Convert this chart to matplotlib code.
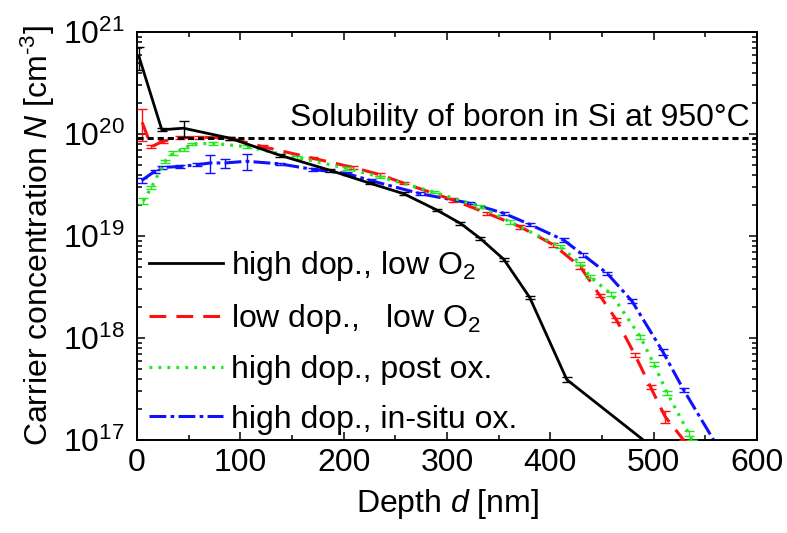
import matplotlib
matplotlib.use("Agg")
import matplotlib.pyplot as plt
import numpy as np
from matplotlib.ticker import LogLocator, LogFormatterMathtext, MultipleLocator, NullFormatter

# Hole concentration profiles vs. depth (nm, cm^-3) with relative uncertainties
depth_hd_lo = [2, 24, 45, 90, 138, 187, 225, 258, 290, 313, 332, 355, 380, 416, 490]
conc_hd_lo = [5.7e20, 1.1e20, 1.14e20, 9.1e19, 6.2e19, 4.4e19, 3.3e19, 2.6e19,
              1.8e19, 1.33e19, 9.5e18, 5.9e18, 2.5e18, 3.9e17, 1.0e17]
err_hd_lo = [0.25, 0.03, 0.18, 0.03, 0.03, 0.03, 0.03, 0.03, 0.03, 0.03, 0.03, 0.03,
             0.03, 0.06, 0.0]

depth_ld_lo = [5, 14, 25, 42, 60, 90, 122, 170, 209, 235, 258, 306, 339, 371, 403,
               429, 448, 464, 482, 497, 511, 529]
conc_ld_lo = [1.3e20, 7.5e19, 8.5e19, 9.2e19, 9.3e19, 9.1e19, 7.5e19, 5.8e19, 4.7e19,
              4.0e19, 3.3e19, 2.25e19, 1.67e19, 1.23e19, 8.2e18, 5.0e18, 2.6e18,
              1.5e18, 6.8e17, 3.3e17, 1.7e17, 1.0e17]
err_ld_lo = [0.35, 0.03, 0.03, 0.03, 0.03, 0.03, 0.03, 0.03, 0.03, 0.03, 0.03, 0.04,
             0.04, 0.04, 0.04, 0.04, 0.04, 0.05, 0.05, 0.05, 0.13, 0.0]

depth_hd_post = [6, 14, 27, 35, 45, 53, 74, 106, 155, 203, 235, 287, 332, 361, 409,
                 429, 438, 459, 487, 500, 513, 534, 537]
conc_hd_post = [2.2e19, 3.0e19, 5.4e19, 6.5e19, 7.1e19, 8.0e19, 8.1e19, 7.5e19, 5.9e19,
                4.6e19, 3.8e19, 2.7e19, 1.94e19, 1.38e19, 7.9e18, 5.4e18, 4.0e18,
                2.7e18, 1.03e18, 5.6e17, 2.9e17, 1.16e17, 1.0e17]
err_hd_post = [0.06, 0.03, 0.03, 0.04, 0.03, 0.03, 0.03, 0.03, 0.03, 0.03, 0.03, 0.03,
               0.04, 0.04, 0.04, 0.04, 0.04, 0.04, 0.05, 0.05, 0.05, 0.05, 0.0]

depth_hd_insitu = [4.5, 17, 24, 42, 58, 71, 85, 106, 138, 170, 203, 226, 274, 322, 355,
                   380, 413, 432, 455, 479, 509, 529, 558]
conc_hd_insitu = [3.5e19, 4.3e19, 4.7e19, 4.8e19, 5.0e19, 5.2e19, 5.2e19, 5.4e19,
                  5.1e19, 4.5e19, 4.1e19, 3.5e19, 2.6e19, 2.1e19, 1.67e19, 1.3e19,
                  9.1e18, 6.5e18, 4.3e18, 2.3e18, 7.3e17, 3.1e17, 1.0e17]
err_hd_insitu = [0.06, 0.03, 0.03, 0.03, 0.03, 0.20, 0.10, 0.17, 0.03, 0.03, 0.03, 0.03,
                 0.03, 0.03, 0.04, 0.04, 0.04, 0.04, 0.04, 0.05, 0.06, 0.05, 0.0]

series_labels = ["high dop., low O$_2$", "low dop.,   low O$_2$",
                 "high dop., post ox.", "high dop., in-situ ox."]

solubility_limit = 9.2e19
solubility_text = "Solubility of boron in Si at 950°C"

plt.rcParams["font.family"] = ["Liberation Sans", "DejaVu Sans"]
plt.rcParams["mathtext.fontset"] = "custom"
plt.rcParams["mathtext.rm"] = "Liberation Sans"
plt.rcParams["mathtext.it"] = "Liberation Sans:italic"
plt.rcParams["mathtext.bf"] = "Liberation Sans:bold"

fig = plt.figure(figsize=(7.87, 5.33), dpi=100)
ax = fig.add_axes([137 / 787, 1 - 440 / 533, 620 / 787, 408 / 533])

series = [
    (depth_hd_lo, conc_hd_lo, err_hd_lo),
    (depth_ld_lo, conc_ld_lo, err_ld_lo),
    (depth_hd_post, conc_hd_post, err_hd_post),
    (depth_hd_insitu, conc_hd_insitu, err_hd_insitu),
]
styles = [
    dict(color="black", lw=2.0, ls="-"),
    dict(color="#ff1010", lw=2.2, dashes=(5.5, 3.3)),
    dict(color="#1fe81f", lw=2.3, dashes=(0.9, 1.9)),
    dict(color="#1010ff", lw=2.2, dashes=(5.5, 1.4, 1.2, 1.4)),
]
zorders = [5, 3, 4, 2]

handles = []
for (d, n, e), st, lab, z in zip(series, styles, series_labels, zorders):
    d = np.asarray(d)
    n = np.asarray(n)
    yerr = n * np.asarray(e)
    ax.errorbar(d, n, yerr=yerr, fmt="none", ecolor=st["color"], elinewidth=1.0,
                capsize=3.5, capthick=1.0, zorder=z)
    (h,) = ax.plot(d, n, label=lab, zorder=z + 0.5, **st)
    handles.append(h)

ax.axhline(solubility_limit, color="black", lw=2.2, dashes=(2.0, 1.3), zorder=6)
ax.text(593, solubility_limit * 1.12, solubility_text, ha="right", va="bottom",
        fontsize=23)

ax.set_yscale("log")
ax.set_xlim(0, 600)
ax.set_ylim(1e17, 1e21)
ax.xaxis.set_major_locator(MultipleLocator(100))
ax.xaxis.set_minor_locator(MultipleLocator(50))
ax.yaxis.set_major_locator(LogLocator(base=10, numticks=10))
ax.yaxis.set_major_formatter(LogFormatterMathtext())
ax.yaxis.set_minor_locator(LogLocator(base=10, subs=np.arange(2, 10), numticks=20))
ax.yaxis.set_minor_formatter(NullFormatter())

ax.tick_params(which="both", direction="in", top=True, right=True, width=1.1)
ax.tick_params(which="major", length=6, labelsize=23)
ax.tick_params(axis="x", which="major", pad=6)
ax.tick_params(axis="y", which="major", pad=9)
ax.tick_params(which="minor", length=3.5)
for sp in ax.spines.values():
    sp.set_linewidth(1.4)

ax.set_xlabel("Depth $d$ [nm]", fontsize=23, labelpad=6)
ax.set_ylabel("Carrier concentration $N$ [cm$^{\\text{-}3}$]", fontsize=23, labelpad=4)

ax.legend(handles=handles, loc="upper left", bbox_to_anchor=(0.02, 0.468),
          frameon=False, fontsize=23, handlelength=2.3, handletextpad=0.25,
          labelspacing=0.6, borderpad=0, borderaxespad=0)

fig.savefig("out.png", dpi=100)
